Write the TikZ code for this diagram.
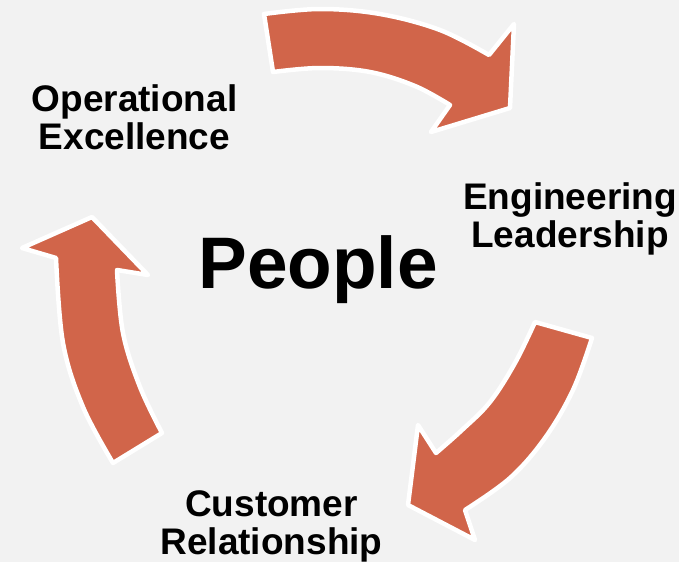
\documentclass[tikz,border=0pt]{standalone}
\usepackage{fontspec}
\setmainfont{Liberation Sans}
\definecolor{bgc}{HTML}{F2F2F2}
\definecolor{arrowc}{RGB}{209,101,74}
\begin{document}
\begin{tikzpicture}[x=1pt,y=-1pt,
  cyc/.style={fill=arrowc,draw=white,line width=4.5pt,line join=round},
  lbl/.style={font=\fontsize{37}{38}\selectfont\bfseries,align=center,anchor=base,inner sep=0pt},
  big/.style={font=\fontsize{73}{80}\selectfont\bfseries,anchor=base,inner sep=0pt}]
\fill[bgc] (0,0) rectangle (679,562);
\useasboundingbox (0,0) rectangle (679,562);
% top arrow
\path[cyc] plot[smooth,tension=0.6] coordinates {(264,14) (320,9) (380,14) (440,30) (489,55)}
  -- (514,24) -- (510,108) -- (431,132) -- (450,105)
  -- plot[smooth,tension=0.6] coordinates {(450,105) (415,86) (370,72) (320,68) (273,72)} -- cycle;
% right arrow
\path[cyc] plot[smooth,tension=0.6] coordinates {(592,338) (573,390) (545,438) (510,478) (465,510)}
  -- (475,540) -- (408,505) -- (418,425) -- (436,453)
  -- plot[smooth,tension=0.6] coordinates {(436,453) (462,430) (490,402) (515,363) (535,322)} -- cycle;
% left arrow
\path[cyc] plot[smooth,tension=0.6] coordinates {(113,463) (83,407) (63,343) (56,258)}
  -- (22,248) -- (92,217) -- (148,275) -- (117,270)
  -- plot[smooth,tension=0.6] coordinates {(117,270) (123,333) (140,387) (162,433)} -- cycle;
\node[lbl] (ops) at (134.5,149) {Operational\\Excellence};
\node[lbl] (eng) at (570,247) {Engineering\\Leadership};
\node[lbl] (cus) at (271.5,554) {Customer\\Relationship};
\node[big] (ppl) at (318,288) {People};
\end{tikzpicture}
\end{document}
